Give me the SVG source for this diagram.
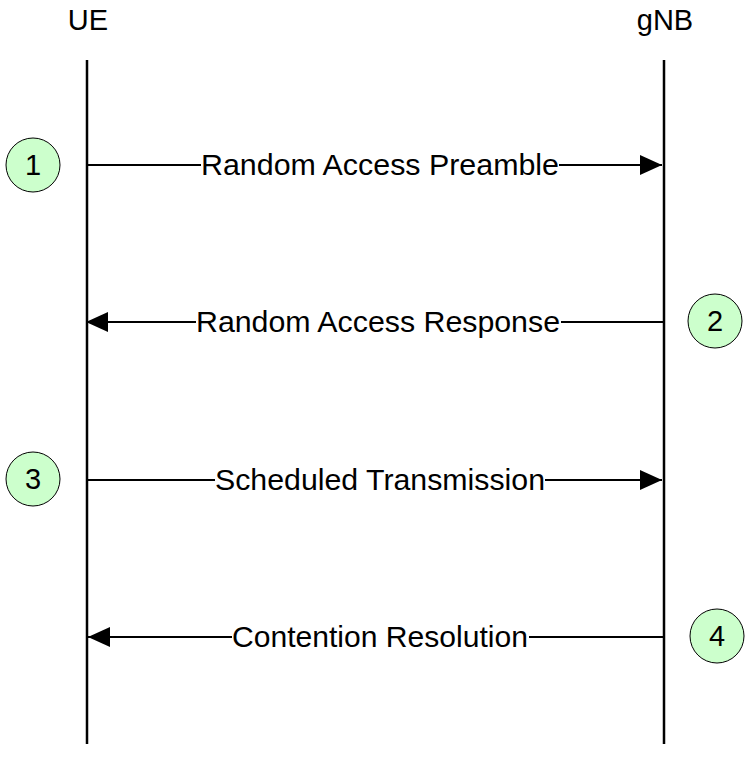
<svg xmlns="http://www.w3.org/2000/svg" width="750" height="776" viewBox="0 0 750 776">
<style>
text{font-family:"Liberation Sans",Arial,sans-serif;font-size:29px;fill:#000}
.life{stroke:#000;stroke-width:2.5}
.msg{stroke:#000;stroke-width:2;fill:none}
.step{fill:#ccffcc;stroke:#000;stroke-width:1}
.lbl{fill:#fff}
</style>
<defs>
<marker id="big" markerWidth="24" markerHeight="20" refX="22" refY="10" orient="auto" markerUnits="userSpaceOnUse"><path d="M0,0 L22,10 L0,20 Z" fill="#000"/></marker>
</defs>
<g id="ue"><text x="88" y="30" text-anchor="middle">UE</text><line class="life" x1="87" y1="60" x2="87" y2="744"/></g>
<g id="gnb"><text x="665" y="30" text-anchor="middle">gNB</text><line class="life" x1="664" y1="60" x2="664" y2="744"/></g>
<g id="connectors">
<line class="msg" x1="87" y1="165" x2="662" y2="165" marker-end="url(#big)"/>
<line class="msg" x1="664" y1="322" x2="86" y2="322" marker-end="url(#big)"/>
<line class="msg" x1="87" y1="480" x2="662" y2="480" marker-end="url(#big)"/>
<line class="msg" x1="664" y1="637" x2="88" y2="637" marker-end="url(#big)"/>
</g>
<g id="labels">
<rect class="lbl" x="201" y="150" width="358" height="30"/><text x="380" y="175" text-anchor="middle" textLength="358" lengthAdjust="spacingAndGlyphs">Random Access Preamble</text>
<rect class="lbl" x="196" y="307" width="365" height="30"/><text x="378" y="332" text-anchor="middle" textLength="364" lengthAdjust="spacingAndGlyphs">Random Access Response</text>
<rect class="lbl" x="215" y="465" width="330" height="30"/><text x="380" y="490" text-anchor="middle" textLength="330" lengthAdjust="spacingAndGlyphs">Scheduled Transmission</text>
<rect class="lbl" x="232" y="622" width="297" height="30"/><text x="380" y="647" text-anchor="middle" textLength="296" lengthAdjust="spacingAndGlyphs">Contention Resolution</text>
</g>
<g id="s1"><circle class="step" cx="33" cy="165" r="27"/><text x="33" y="175" text-anchor="middle">1</text></g>
<g id="s2"><circle class="step" cx="715" cy="321" r="27"/><text x="715" y="331" text-anchor="middle">2</text></g>
<g id="s3"><circle class="step" cx="33" cy="479" r="27"/><text x="33" y="489" text-anchor="middle">3</text></g>
<g id="s4"><circle class="step" cx="717" cy="636" r="27"/><text x="717" y="646" text-anchor="middle">4</text></g>
</svg>
